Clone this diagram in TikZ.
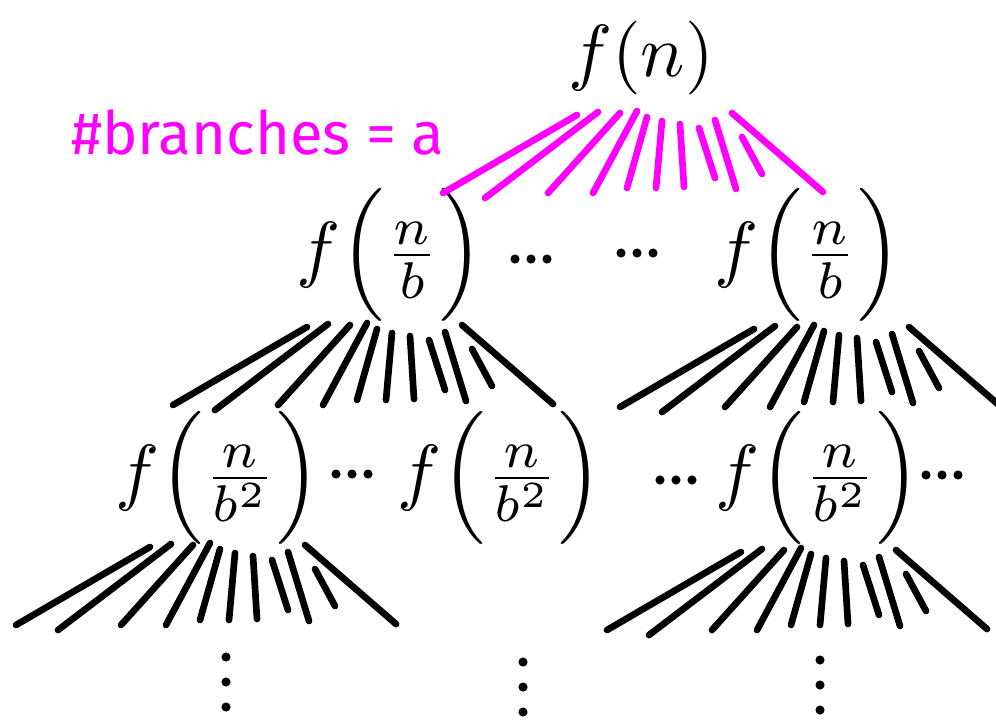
\documentclass[tikz,border=0pt]{standalone}
\usepackage{fontspec}
\newfontfamily\handfont{Fira Sans}
\definecolor{branchpink}{RGB}{255,0,255}
\tikzset{
  fanline/.style={line width=3.8pt, line cap=round},
  % one fan of eleven branches, drawn below a call
  fan/.pic={
    \foreach \xa/\ya/\xb/\yb in {-63/5/-197/83, -42/2/-155/88, -20/3/-92/83,
        -3/1/-47/83, 7/7/-13/78, 22/11/16/78, 40/14/44/77, 59/18/75/68,
        75/10/96/79, 102/27/122/64, 92/3/183/82}
      \draw[fanline] (\xa,\ya) -- (\xb,\yb);
  },
  hdots/.pic={\foreach \i in {-1,0,1} \fill (\i*16,0) circle (2.6pt);},
  vdots/.pic={\foreach \i in {-1,0,1} \fill (0,\i*25) circle (2.6pt);}
}
\begin{document}
\begin{tikzpicture}[
  x=0.02cm, y=-0.02cm,
  call/.style={scale=4.2, inner sep=0pt},
  note/.style={font=\handfont\fontsize{34}{40}\selectfont, text=branchpink, inner sep=0pt}
]
  \useasboundingbox (0,0) rectangle (996,724);
  % calls
  \node[call] (root) at (641,58) {$f(n)$};
  \node[note] (branches) at (258,132) {\#branches = a};
  \node[call] (L1a) at (390,255) {$f\Big(\frac{n}{b}\Big)$};
  \node[call] (L1b) at (808,255) {$f\Big(\frac{n}{b}\Big)$};
  \node[call] (L2a) at (218,478) {$f\Big(\frac{n}{b^2}\Big)$};
  \node[call] (L2b) at (500,478) {$f\Big(\frac{n}{b^2}\Big)$};
  \node[call] (L2c) at (818,478) {$f\Big(\frac{n}{b^2}\Big)$};
  % branches
  \pic[color=branchpink] at (640,110) {fan};
  \pic at (370,322) {fan};
  \pic at (817,324) {fan};
  \pic at (213,542) {fan};
  \pic at (804,547) {fan};
  % dots
  \pic at (531,259) {hdots};
  \pic at (637,253) {hdots};
  \pic at (352,474) {hdots};
  \pic at (676,480) {hdots};
  \pic at (942,475) {hdots};
  \pic at (226,682) {vdots};
  \pic at (523,687) {vdots};
  \pic at (820,685) {vdots};
\end{tikzpicture}
\end{document}
